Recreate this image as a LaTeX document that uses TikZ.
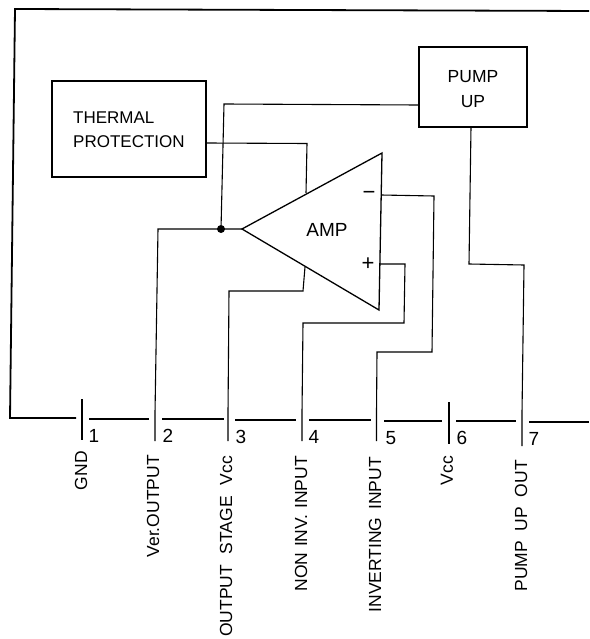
\documentclass[tikz,border=0pt]{standalone}
\usepackage{fontspec}
\setmainfont{Liberation Sans}
\newfontfamily\widespaced[WordSpace=1.6]{Liberation Sans}
\begin{document}
\begin{tikzpicture}[x=1pt,y=-1pt,
  wire/.style={line width=1.1pt,line join=miter},
  rail/.style={line width=1.8pt},
  blockbox/.style={draw,line width=1.1pt,inner sep=0pt},
  pinline/.style={line width=1.3pt},
  pinnum/.style={inner sep=0pt,font=\fontsize{19}{19}\selectfont},
  pinname/.style={inner sep=0pt,rotate=90,anchor=east,font=\widespaced\fontsize{17.5}{18}\selectfont},
  boxtext/.style={inner sep=0pt,align=center,font=\fontsize{17.5}{25}\selectfont},
  sign/.style={inner sep=0pt,font=\fontsize{22}{22}\selectfont}]
\useasboundingbox (0,0) rectangle (589,639);
% package outline
\coordinate (tl) at (15,9);
\coordinate (tr) at (589,11);
\coordinate (bl) at (10,418);
\coordinate (s1) at (76,418);
\draw[rail] (tr) -- (tl) -- (bl) -- (s1);
\foreach \a/\b/\y in {89/149/419,162/224/419,235/296/420,309/371/420,384/442/421,456/516/421,529/589/422}
  \draw[rail] (\a,\y) -- (\b,\y);
% blocks
\node[blockbox,minimum width=154pt,minimum height=96pt] (therm) at (129,129) {};
\node[boxtext,align=left,anchor=west,font=\fontsize{17}{24}\selectfont] (thermt) at (73,130) {THERMAL\\PROTECTION};
\node[blockbox,minimum width=108pt,minimum height=80pt] (pump) at (473,87) {};
\node[boxtext] (pumpt) at (473,89.5) {PUMP\\UP};
% amplifier
\coordinate (ao) at (242,229);
\coordinate (at) at (382,153);
\coordinate (ab) at (379,310);
\draw[wire,line width=1.3pt] (ao) -- (at) -- (ab) -- cycle;
\node[inner sep=0pt,font=\fontsize{19}{19}\selectfont] (amp) at (327,230) {AMP};
\node[sign] (minus) at (369,195) {−};
\node[sign] (plus) at (368,264) {+};
% pins
\foreach \n/\x/\b in {1/82/440,2/155/441,3/228/441,4/302/441,5/376.5/441,6/449/444,7/522/446}
  \coordinate (p\n) at (\x,\b);
\draw[pinline] (82,399) -- (p1);
\draw[pinline] (449,402) -- (p6);
% wires
\coordinate (dot) at (221,229);
\node[circle,fill,inner sep=0pt,minimum size=8pt] (jn) at (dot) {};
\draw[wire] (p2) -- (155,413) -- (158,229) -- (ao);
\draw[wire] (jn) -- (224,104) -- (pump.west |- 0,105);
\draw[wire] (therm.east |- 0,143) -- (307,143.5) -- (306,193);
\draw[wire] (p3) -- (228,413) -- (229,291) -- (303,291) -- (305,267);
\draw[wire] (p4) -- (302,413) -- (303,323) -- (404,323) -- (405,264) -- (379,264);
\draw[wire] (p5) -- (376.5,413) -- (377,352) -- (432,352) -- (434,196) -- (381,195);
\draw[wire] (p7) -- (522,413) -- (524,265) -- (469,264) -- (471,127);
% numbers
\foreach \n/\x/\y in {1/94/436,2/168/436,3/241/437,4/314/437,5/391/438,6/462/438,7/534/439}
  \node[pinnum] (num\n) at (\x,\y) {\n};
% pin names
\node[pinname] (nGND) at (81,451) {GND};
\node[pinname] (nVer) at (153,455) {Ver.OUTPUT};
\node[pinname] (nOut) at (226,456) {OUTPUT\hspace{3pt} STAGE\hspace{3pt} Vcc};
\node[pinname] (nNon) at (301,456) {NON\hspace{-2pt} INV.\hspace{-2pt} INPUT};
\node[pinname] (nInv) at (375,457) {INVERTING INPUT};
\node[pinname] (nVcc) at (447,456) {Vcc};
\node[pinname] (nPump) at (521,460) {PUMP\hspace{2pt} UP\hspace{2pt} OUT};
\end{tikzpicture}
\end{document}
